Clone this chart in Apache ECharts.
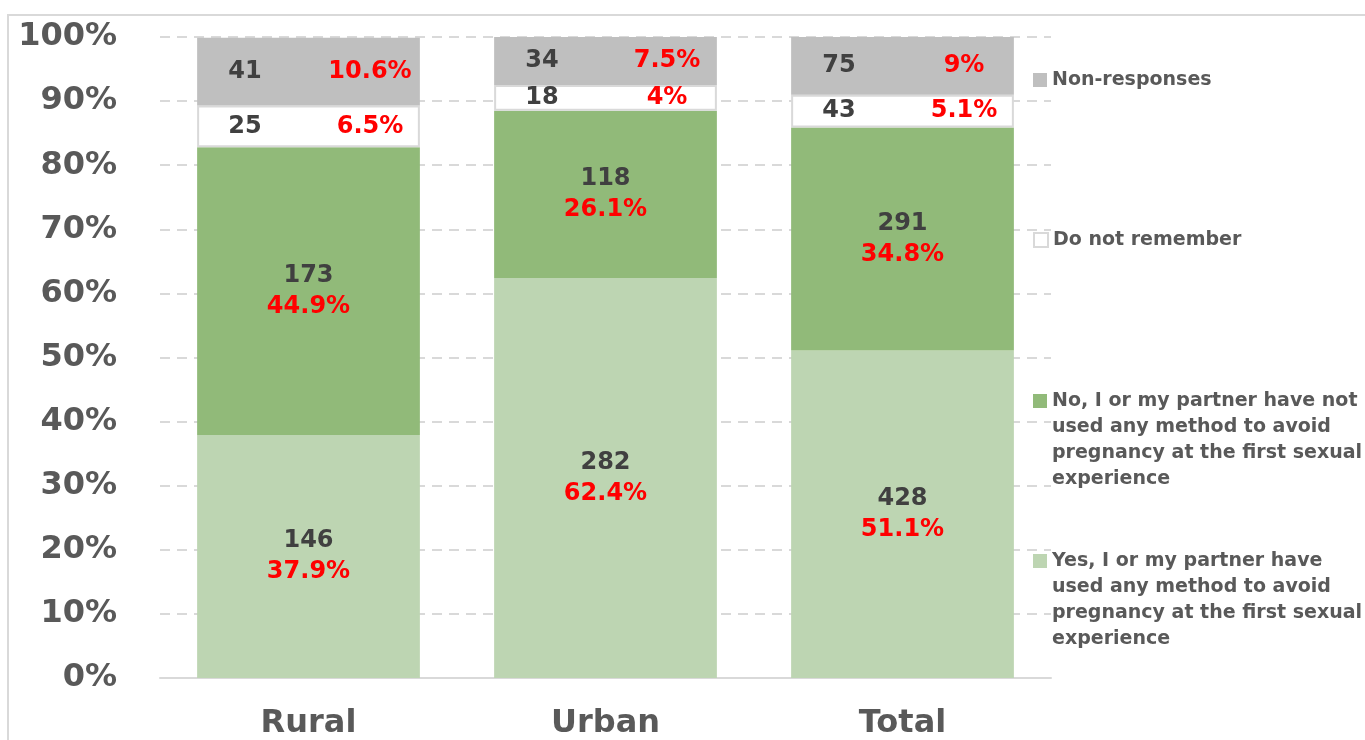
<!DOCTYPE html>
<html><head><meta charset="utf-8">
<script src="https://cdn.jsdelivr.net/npm/echarts@6/dist/echarts.min.js"></script>
<style>html,body{margin:0;padding:0;background:#fff}#c{width:1365px;height:740px}</style>
</head><body><div id="c"></div>
<script>
const categories = ['Rural', 'Urban', 'Total'];
const nameYes = 'Yes, I or my partner have used any method to avoid pregnancy at the first sexual experience';
const nameNo = 'No, I or my partner have not used any method to avoid pregnancy at the first sexual experience';
const nameDnr = 'Do not remember';
const nameNr = 'Non-responses';
const yesPct = [37.9, 62.4, 51.1];
const yesCount = [146, 282, 428];
const noPct = [44.9, 26.1, 34.8];
const noCount = [173, 118, 291];
const dnrPct = [6.5, 4, 5.1];
const dnrCount = [25, 18, 43];
const nrPct = [10.6, 7.5, 9];
const nrCount = [41, 34, 75];
const legendText = {};
legendText[nameYes] = 'Yes, I or my partner have\nused any method to avoid\npregnancy at the first sexual\nexperience';
legendText[nameNo] = 'No, I or my partner have not\nused any method to avoid\npregnancy at the first sexual\nexperience';
legendText[nameDnr] = 'Do not remember';
legendText[nameNr] = 'Non-responses';

const FONT = 'DejaVu Sans';
const DARK = '#404040';
const RED = '#ff0000';

function stackedLabel(pct, cnt) {
  return {
    show: true, position: 'inside',
    formatter: p => '{c|' + cnt[p.dataIndex] + '}\n{p|' + pct[p.dataIndex] + '%}',
    rich: {
      c: {fontFamily: FONT, fontWeight: 'bold', fontSize: 24, color: DARK, lineHeight: 31},
      p: {fontFamily: FONT, fontWeight: 'bold', fontSize: 24, color: RED, lineHeight: 31}
    }
  };
}
function sideLabel(pct, cnt) {
  return {
    show: true, position: 'inside',
    formatter: p => '{c|' + cnt[p.dataIndex] + '}{g|}{p|' + pct[p.dataIndex] + '%}',
    rich: {
      c: {fontFamily: FONT, fontWeight: 'bold', fontSize: 24, color: DARK, width: 96, align: 'center'},
      g: {width: 27},
      p: {fontFamily: FONT, fontWeight: 'bold', fontSize: 24, color: RED, width: 100, align: 'center'}
    }
  };
}
function legendFor(name, iconCenterY, lines) {
  const blank = lines - 1;
  const total = lines + blank;
  return {
    data: [name], left: 1033, top: iconCenterY - total * 13, padding: 0, orient: 'vertical',
    itemWidth: 14, itemHeight: 14, itemGap: 0, selectedMode: false,
    icon: 'rect',
    formatter: n => '\n'.repeat(blank) + legendText[n],
    textStyle: {fontFamily: FONT, fontWeight: 'bold', fontSize: 19, color: '#595959', lineHeight: 26}
  };
}

const chart = echarts.init(document.getElementById('c'), null, {renderer: 'canvas'});
chart.setOption({
  animation: false,
  backgroundColor: '#fff',
  graphic: [{type: 'rect', shape: {x: 8, y: 15, width: 1400, height: 800},
    style: {fill: 'none', stroke: '#d9d9d9', lineWidth: 2}, silent: true}],
  grid: {left: 160, right: 314, top: 37, bottom: 62},
  legend: [
    legendFor(nameNr, 80, 1),
    legendFor(nameDnr, 240, 1),
    legendFor(nameNo, 401, 4),
    legendFor(nameYes, 561, 4)
  ],
  xAxis: {
    type: 'category', data: categories,
    axisLine: {lineStyle: {color: '#d9d9d9', width: 2}},
    axisTick: {show: false},
    axisLabel: {fontFamily: FONT, fontWeight: 'bold', fontSize: 32, color: '#595959', margin: 30}
  },
  yAxis: {
    type: 'value', min: 0, max: 100, interval: 10,
    axisLine: {show: false}, axisTick: {show: false},
    axisLabel: {formatter: '{value}%', fontFamily: FONT, fontWeight: 'bold', fontSize: 32, color: '#595959', margin: 43},
    splitLine: {lineStyle: {color: '#d9d9d9', width: 2, type: [10, 7]}}
  },
  series: [
    {name: nameYes, type: 'bar', stack: 's', data: yesPct, barWidth: '75%',
      itemStyle: {color: '#bdd5b2'}, label: stackedLabel(yesPct, yesCount)},
    {name: nameNo, type: 'bar', stack: 's', data: noPct,
      itemStyle: {color: '#91ba79'}, label: stackedLabel(noPct, noCount)},
    {name: nameDnr, type: 'bar', stack: 's', data: dnrPct,
      itemStyle: {color: '#ffffff', borderColor: '#d9d9d9', borderWidth: 2}, label: sideLabel(dnrPct, dnrCount)},
    {name: nameNr, type: 'bar', stack: 's', data: nrPct,
      itemStyle: {color: '#bfbfbf'}, label: sideLabel(nrPct, nrCount)}
  ]
});
</script></body></html>
